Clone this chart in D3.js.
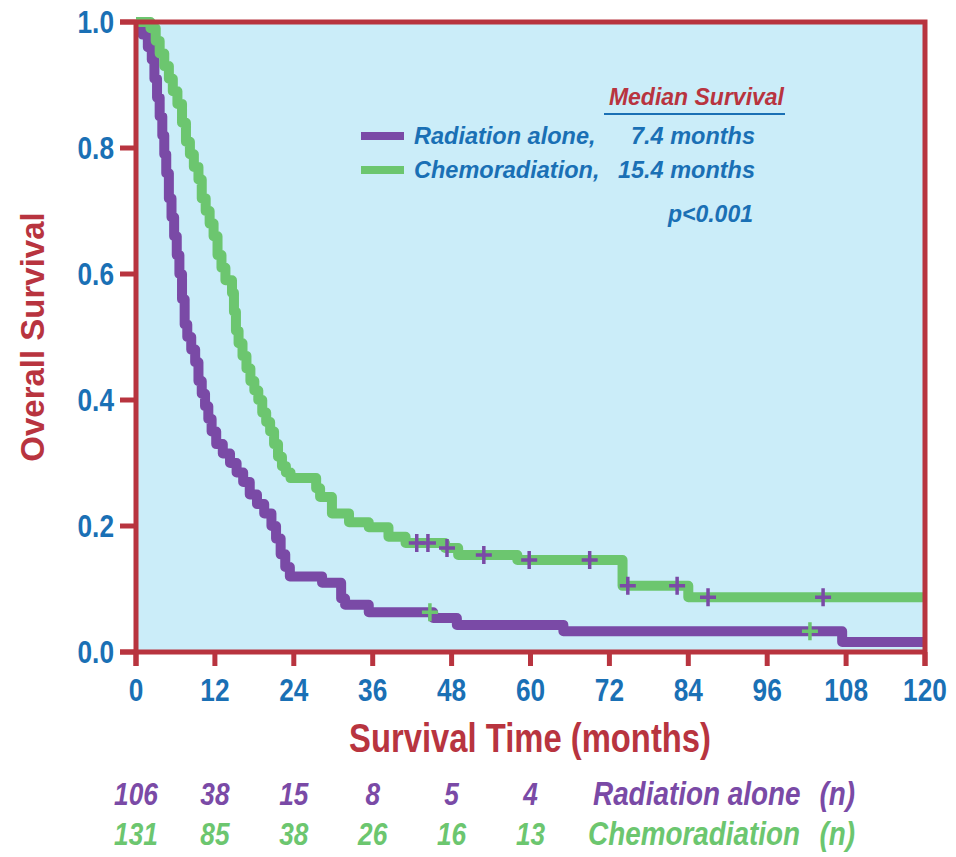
<!DOCTYPE html>
<html lang="en">
<head>
    <meta charset="UTF-8">
    <title>Overall Survival by Treatment</title>
    <script src="https://d3js.org/d3.v7.min.js"></script>
    <style>
        body { margin: 0; background: #fff; }
        text { font-family: "Liberation Sans", Arial, sans-serif; font-weight: bold; }
    </style>
</head>
<body>
    <svg width="956" height="857"></svg>
    <script>
        // Kaplan-Meier steps: [month, survival]
        const radiationSteps = [
            [0, 1.0], [1.0, 0.98], [1.8, 0.96], [2.4, 0.94], [2.8, 0.91], [3.2, 0.88], [3.6, 0.85],
            [4.0, 0.82], [4.3, 0.79], [4.6, 0.76], [5.0, 0.72], [5.4, 0.69], [5.8, 0.66], [6.2, 0.63],
            [6.6, 0.60], [7.0, 0.56], [7.4, 0.52], [7.8, 0.50], [8.4, 0.48], [9.0, 0.46], [9.5, 0.43],
            [10.0, 0.41], [10.5, 0.39], [11.0, 0.37], [11.5, 0.35], [12.2, 0.33], [13.2, 0.315],
            [14.3, 0.30], [15.3, 0.285], [16.3, 0.27], [17.3, 0.25], [18.4, 0.235], [19.5, 0.22],
            [20.6, 0.20], [21.3, 0.18], [22.0, 0.155], [22.7, 0.135], [23.4, 0.12], [28.3, 0.11],
            [31.2, 0.085], [31.8, 0.075], [35.4, 0.063], [45.2, 0.054], [48.8, 0.043], [65.0, 0.033],
            [107.4, 0.016]
        ];
        const chemoSteps = [
            [0, 1.0], [2.2, 0.99], [3.0, 0.97], [3.6, 0.95], [4.3, 0.93], [5.0, 0.91], [5.6, 0.89],
            [6.3, 0.87], [7.0, 0.84], [7.6, 0.81], [8.2, 0.79], [8.8, 0.77], [9.5, 0.75], [10.0, 0.72],
            [10.6, 0.70], [11.2, 0.68], [11.8, 0.66], [12.4, 0.63], [13.0, 0.61], [13.6, 0.59],
            [14.6, 0.57], [14.9, 0.54], [15.2, 0.51], [15.6, 0.49], [16.2, 0.47], [16.8, 0.45],
            [17.4, 0.43], [18.0, 0.415], [18.6, 0.40], [19.2, 0.38], [19.8, 0.365], [20.4, 0.35],
            [21.0, 0.33], [21.6, 0.31], [22.2, 0.295], [22.8, 0.285], [23.5, 0.276], [27.4, 0.26],
            [28.0, 0.246], [29.8, 0.22], [32.4, 0.206], [35.4, 0.198], [38.4, 0.183], [41.0, 0.173],
            [47.0, 0.165], [49.0, 0.154], [58.0, 0.146], [74.0, 0.105], [84.0, 0.087]
        ];
        // censored observations (months)
        const radiationCensored = [44.7, 102.5];
        const chemoCensored = [42.7, 44.4, 47.3, 52.9, 59.8, 69.0, 74.8, 82.3, 87.0, 104.5];

        const xTicks = [0, 12, 24, 36, 48, 60, 72, 84, 96, 108, 120];
        const yTicks = [0, 0.2, 0.4, 0.6, 0.8, 1.0];
        const riskTimes = [0, 12, 24, 36, 48, 60];
        const radiationAtRisk = [106, 38, 15, 8, 5, 4];
        const chemoAtRisk = [131, 85, 38, 26, 16, 13];

        const red = "#b8343f", blue = "#1a70b5", purple = "#7a4aa6", green = "#6cc66f";
        const squeeze = 0.82;

        const svg = d3.select("svg");
        const x = d3.scaleLinear().domain([0, 120]).range([136, 925]);
        const y = d3.scaleLinear().domain([0, 1]).range([652, 22]);

        // plot background
        svg.append("rect")
            .attr("x", x(0)).attr("y", y(1))
            .attr("width", x(120) - x(0)).attr("height", y(0) - y(1))
            .attr("fill", "#cbedf9");

        const line = d3.line()
            .x(d => x(d[0])).y(d => y(d[1]))
            .curve(d3.curveStepAfter);

        function survAt(steps, t) {
            let s = steps[0][1];
            for (const d of steps) if (d[0] <= t) s = d[1];
            return s;
        }

        const series = [
            { steps: radiationSteps, color: purple, censored: radiationCensored, mark: green },
            { steps: chemoSteps, color: green, censored: chemoCensored, mark: purple }
        ];

        series.forEach(s => {
            const pts = s.steps.concat([[120, s.steps[s.steps.length - 1][1]]]);
            svg.append("path")
                .datum(pts)
                .attr("d", line)
                .attr("fill", "none")
                .attr("stroke", s.color)
                .attr("stroke-width", 10)
                .attr("stroke-linejoin", "round");
        });

        // censor marks drawn after both curves
        series.forEach(s => {
            const g = svg.append("g");
            s.censored.forEach(t => {
                const cx = x(t), cy = y(survAt(s.steps, t));
                g.append("path")
                    .attr("d", `M${cx - 8},${cy}H${cx + 8}M${cx},${cy - 9}V${cy + 9}`)
                    .attr("stroke", s.mark)
                    .attr("stroke-width", 3.5);
            });
        });

        // frame and ticks
        const frame = svg.append("g").attr("stroke", red).attr("stroke-width", 5).attr("fill", "none");
        frame.append("path").attr("d", `M${x(0) - 16},${y(1)}H${x(120)}V${y(0) + 14}`);
        frame.append("path").attr("d", `M${x(0)},${y(1) - 2}V${y(0) + 14}`);
        frame.append("path").attr("d", `M${x(0) - 16},${y(0)}H${x(120) + 2}`);
        yTicks.forEach(v => {
            frame.append("line").attr("x1", x(0) - 16).attr("x2", x(0)).attr("y1", y(v)).attr("y2", y(v));
        });
        xTicks.forEach(v => {
            frame.append("line").attr("x1", x(v)).attr("x2", x(v)).attr("y1", y(0)).attr("y2", y(0) + 14);
        });

        function label(tx, ty, str, opts) {
            const t = svg.append("text")
                .attr("transform", `translate(${tx},${ty}) scale(${opts.sx || 1},1)` + (opts.rot ? ` rotate(${opts.rot})` : ""))
                .attr("text-anchor", opts.anchor || "start")
                .attr("font-size", opts.size)
                .attr("fill", opts.color)
                .text(str);
            if (opts.italic) t.attr("font-style", "italic");
            return t;
        }

        yTicks.forEach(v => label(114, y(v) + 11, d3.format(".1f")(v), { anchor: "end", size: 32, color: blue, sx: squeeze }));
        xTicks.forEach(v => label(x(v), 701, v, { anchor: "middle", size: 32, color: blue, sx: squeeze }));

        label(530, 752, "Survival Time (months)", { anchor: "middle", size: 40, color: red, sx: squeeze });
        label(44, 337, "Overall Survival", { anchor: "middle", size: 33, color: red, rot: -90 });

        // numbers at risk
        riskTimes.forEach((t, i) => {
            label(x(t), 805, radiationAtRisk[i], { anchor: "middle", size: 32, color: purple, sx: squeeze, italic: true });
            label(x(t), 845, chemoAtRisk[i], { anchor: "middle", size: 32, color: green, sx: squeeze, italic: true });
        });
        label(593, 805, "Radiation alone", { size: 34, color: purple, sx: squeeze, italic: true });
        label(588, 845, "Chemoradiation", { size: 34, color: green, sx: squeeze, italic: true });
        label(855, 805, "(n)", { anchor: "end", size: 34, color: purple, sx: squeeze, italic: true });
        label(855, 845, "(n)", { anchor: "end", size: 34, color: green, sx: squeeze, italic: true });

        // legend
        const legend = [
            { name: "Radiation alone,", median: "7.4 months", color: purple, y: 136 },
            { name: "Chemoradiation,", median: "15.4 months", color: green, y: 170 }
        ];
        label(784, 105, "Median Survival", { anchor: "end", size: 23, color: red, italic: true });
        svg.append("line").attr("x1", 604).attr("x2", 785).attr("y1", 114).attr("y2", 114)
            .attr("stroke", blue).attr("stroke-width", 2);
        legend.forEach(d => {
            svg.append("line").attr("x1", 361).attr("x2", 404).attr("y1", d.y).attr("y2", d.y)
                .attr("stroke", d.color).attr("stroke-width", 8);
            label(414, d.y + 8, d.name, { size: 23.5, color: blue, italic: true });
            label(755, d.y + 8, d.median, { anchor: "end", size: 23.5, color: blue, italic: true });
        });
        label(753, 222, "p<0.001", { anchor: "end", size: 23, color: blue, italic: true });
    </script>
</body>
</html>
